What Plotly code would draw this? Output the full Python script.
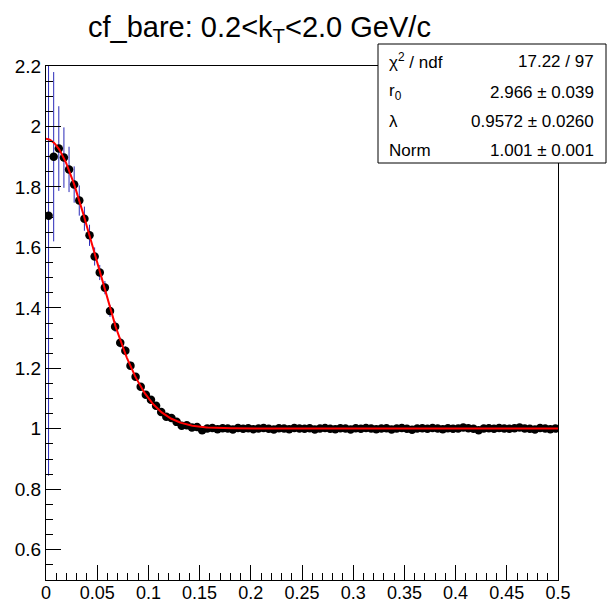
import numpy as np
import plotly.graph_objects as go

# ---- data ----
bin_width = 0.005
n_bins = 100
q_centers = [round(0.0025 + bin_width * i, 4) for i in range(n_bins)]

cf_values = [
    1.705, 1.900, 1.927, 1.897, 1.858, 1.808, 1.755, 1.695, 1.640, 1.570,
    1.517, 1.467, 1.390, 1.338, 1.285, 1.258, 1.209, 1.172, 1.139, 1.113,
    1.096, 1.076, 1.056, 1.040, 1.036, 1.023, 1.010, 1.012, 1.004, 1.006,
    0.995, 1.001, 1.003, 0.999, 1.002, 1.001, 0.998, 1.003, 1.000, 1.002,
    0.999, 1.001, 1.003, 1.000, 0.998, 1.002, 1.001, 0.999, 1.003, 1.001,
    1.000, 1.002, 0.998, 1.001, 1.003, 1.000, 0.999, 1.002, 1.001, 0.998,
    1.002, 1.000, 1.003, 1.001, 0.999, 1.001, 1.002, 0.998, 1.001, 1.003,
    1.000, 0.997, 1.001, 1.002, 1.000, 1.003, 1.001, 0.999, 1.002, 1.000,
    1.001, 1.004, 1.002, 1.000, 0.995, 1.001, 1.002, 1.000, 1.003, 1.001,
    1.000, 1.002, 1.004, 1.001, 1.000, 0.998, 1.003, 1.001, 0.999, 1.001,
]

cf_errors = [
    0.860, 0.280, 0.140, 0.100, 0.075, 0.060, 0.050, 0.040, 0.035, 0.030,
    0.025, 0.022, 0.020, 0.018, 0.016, 0.015, 0.013, 0.012, 0.011, 0.010,
] + [0.008] * 10 + [0.005] * 30 + [0.004] * 40

# fit parameters shown in the stats box
fit_r0 = 2.966      # fm
fit_lambda = 0.9572
fit_norm = 1.001
hbarc = 0.19733     # GeV fm

stats_labels = ["χ<sup>2</sup> / ndf", "r<sub>0</sub>", "λ", "Norm"]
stats_values = ["17.22 / 97", "2.966 ± 0.039", "0.9572 ± 0.0260", "1.001 ± 0.001"]

title_text = "cf_bare: 0.2&lt;k<sub>T</sub>&lt;2.0 GeV/c"

# ---- fit curve from the displayed parameters ----
q_fit = np.linspace(0.0, 0.5, 501)
cf_fit = fit_norm * (1 + fit_lambda * np.exp(-(fit_r0 * q_fit / hbarc) ** 2))

# ---- layout geometry (pixels) ----
W, H = 607, 604
ML, MR, MT, MB = 46, 49, 66, 24
PW, PH = W - ML - MR, H - MT - MB


def px(x):
    return (x - ML) / PW


def py(y):
    return (H - MB - y) / PH


fig = go.Figure()
fig.add_trace(go.Scatter(
    x=q_centers, y=cf_values, mode="markers",
    marker=dict(color="black", size=8.5),
    error_y=dict(type="data", array=cf_errors, color="#2a2ab8", thickness=1, width=0),
    showlegend=False, cliponaxis=True,
))
fig.add_trace(go.Scatter(
    x=q_fit, y=cf_fit, mode="lines",
    line=dict(color="#ff0000", width=2),
    showlegend=False,
))

font_main = "Liberation Sans, Arial, sans-serif"

axis_common = dict(
    showgrid=False, zeroline=False, showline=True, mirror=True,
    linecolor="black", linewidth=1, ticks="inside", tickcolor="black",
    ticklen=15, tickwidth=1, automargin=False,
)

fig.update_xaxes(range=[0, 0.5], dtick=0.05, tick0=0,
                 minor=dict(dtick=0.01, ticks="inside", ticklen=7, tickcolor="black"),
                 tickfont=dict(family=font_main, size=18, color="black"),
                 ticklabelstandoff=-4,
                 **axis_common)
fig.update_yaxes(range=[0.5, 2.2], dtick=0.2, tick0=0,
                 minor=dict(dtick=0.05, ticks="inside", ticklen=7, tickcolor="black"),
                 tickfont=dict(family=font_main, size=19, color="black"),
                 **axis_common)

shapes = [dict(type="rect", xref="paper", yref="paper",
               x0=px(378), x1=px(606), y0=py(163), y1=py(44),
               line=dict(color="black", width=1), fillcolor="white", layer="above")]

annotations = [dict(text=title_text, xref="paper", yref="paper",
                    x=px(259), y=py(29), xanchor="center", yanchor="middle",
                    showarrow=False, font=dict(family=font_main, size=29, color="black"))]

row_y = [61, 92, 122, 150]
for lab, val, yy in zip(stats_labels, stats_values, row_y):
    annotations.append(dict(text=lab, xref="paper", yref="paper", x=px(387), y=py(yy),
                            xanchor="left", yanchor="middle", showarrow=False,
                            font=dict(family=font_main, size=17, color="black")))
    annotations.append(dict(text=val, xref="paper", yref="paper", x=px(596), y=py(yy),
                            xanchor="right", yanchor="middle", showarrow=False,
                            font=dict(family=font_main, size=17, color="black")))

fig.update_layout(
    width=W, height=H,
    margin=dict(l=ML, r=MR, t=MT, b=MB),
    paper_bgcolor="white", plot_bgcolor="white",
    shapes=shapes, annotations=annotations,
    font=dict(family=font_main, color="black"),
)

fig.write_html("out.html")
